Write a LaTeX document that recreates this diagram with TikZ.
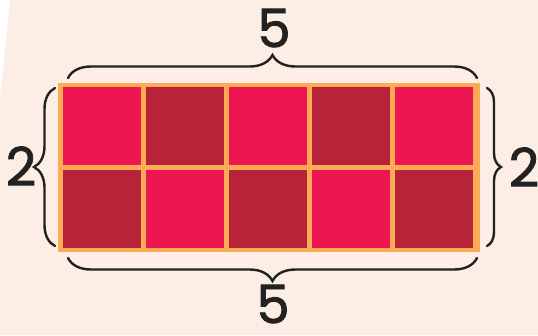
\documentclass[tikz,border=0pt]{standalone}
\usepackage{fontspec}
\setmainfont{Poppins}
\newfontfamily\digitfont{Poppins}[FakeBold=1.6]
\usepackage{tikz}
\usetikzlibrary{decorations.pathreplacing}
\definecolor{arrpaper}{HTML}{FCEEE4}
\definecolor{arrpink}{HTML}{EE1651}
\definecolor{arrwine}{HTML}{B72338}
\definecolor{arrframe}{HTML}{FBAA55}
\definecolor{arrink}{HTML}{222222}
\tikzset{
  sidebrace/.style={arrink,line width=2.4pt,decorate,
    decoration={brace,amplitude=#1}},
  sidelabel/.style={arrink,font=\digitfont\fontsize{53}{53}\selectfont,inner sep=0pt}
}

\begin{document}
\begin{tikzpicture}[x=1pt,y=-1pt,line cap=round]
    \fill[arrpaper] (0,0) rectangle (538,335);
    \fill[white] (0,0) -- (10,0) -- (0,97) -- cycle;
    \useasboundingbox (0,0) rectangle (538,335);
    % frame and cells
    \fill[arrframe] (58,83) rectangle (480,252);
    \foreach \col/\row in {0/0,2/0,4/0,1/1,3/1}
      \fill[arrpink] (63+83*\col,87+83*\row) rectangle ++(78,78);
    \foreach \col/\row in {1/0,3/0,0/1,2/1,4/1}
      \fill[arrwine] (63+83*\col,87+83*\row) rectangle ++(78,78);
    % brace ends
    \coordinate (topL) at (68,78);
    \coordinate (topR) at (477,78);
    \coordinate (botL) at (68,258);
    \coordinate (botR) at (477,258);
    \coordinate (lftT) at (55,88);
    \coordinate (lftB) at (55,246);
    \coordinate (rgtT) at (487,88);
    \coordinate (rgtB) at (487,246);
    \draw[sidebrace=23pt] (topL) -- (topR);
    \draw[sidebrace=23pt] (botR) -- (botL);
    \draw[sidebrace=21pt] (lftB) -- (lftT);
    \draw[sidebrace=14pt] (rgtT) -- (rgtB);
    % labels
    \node[sidelabel] (lenTop) at (274,28) {5};
    \node[sidelabel] (lenBot) at (273,304) {5};
    \node[sidelabel] (widLft) at (21,166) {2};
    \node[sidelabel] (widRgt) at (524,167) {2};
\end{tikzpicture}
\end{document}
